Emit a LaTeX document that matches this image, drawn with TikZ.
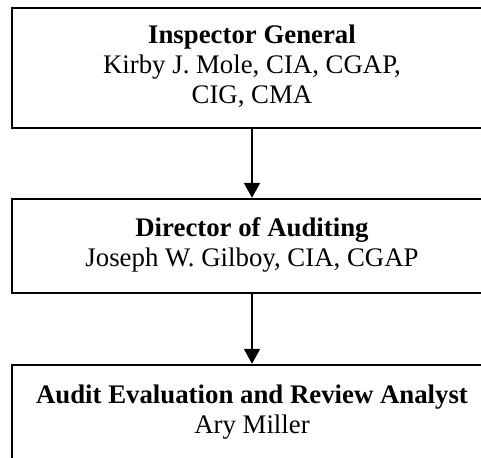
\documentclass[tikz,border=0pt]{standalone}
\usepackage{fontspec}
\setmainfont{Liberation Serif}
\usetikzlibrary{arrows.meta}
\newcommand{\boxtext}[2]{\raisebox{#1}{\begin{tabular}{@{}c@{}}#2\end{tabular}}}
\begin{document}
\begin{tikzpicture}[x=0.5pt,y=-0.5pt,
  box/.style={draw=black,line width=1.2pt,rectangle,minimum width=240pt,
    inner sep=0pt,font=\fontsize{13.4}{15}\selectfont},
  conn/.style={line width=1pt,-{Triangle[width=8pt,length=7.5pt]}}]
\useasboundingbox (0,0) rectangle (481,458);
\clip (0,0) rectangle (481,458);
\node[box,minimum height=60pt] (ig) at (252,68)
  {\boxtext{1pt}{\textbf{Inspector General}\\Kirby J. Mole, CIA, CGAP,\\CIG, CMA}};
\node[box,minimum height=47pt] (da) at (252,246)
  {\boxtext{2pt}{\textbf{Director of Auditing}\\Joseph W. Gilboy, CIA, CGAP}};
\node[box,minimum height=47pt] (an) at (252,412)
  {\boxtext{1pt}{\textbf{Audit Evaluation and Review Analyst}\\Ary Miller}};
\draw[conn] (ig.south) -- (da.north);
\draw[conn] (da.south) -- (an.north);
\end{tikzpicture}
\end{document}
